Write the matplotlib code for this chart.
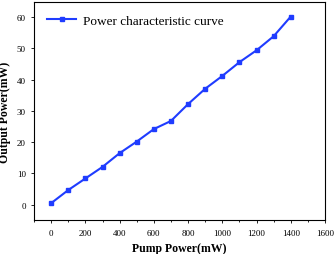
import numpy as np
import matplotlib.pyplot as plt
from matplotlib.ticker import MultipleLocator

pump = [0, 100, 200, 300, 400, 500, 600, 700, 800, 900, 1000, 1100, 1200, 1300, 1400]
output = [0.5, 4.7, 8.4, 12.1, 16.5, 20.2, 24.2, 26.8, 32.2, 37.1, 41.2, 45.6, 49.4, 53.9, 60.2]

plt.rcParams['font.family'] = ['Liberation Serif', 'DejaVu Serif']

fig = plt.figure(figsize=(3.34, 2.55), dpi=100)
ax = fig.add_axes([0.102, 0.132, 0.871, 0.858])
ax.plot(pump, output, color='#1f3cff', marker='s', markersize=3.5, linewidth=1.5,
        label='Power characteristic curve')
ax.set_xlim(-100, 1600)
ax.set_ylim(-5, 65)
ax.xaxis.set_major_locator(MultipleLocator(200))
ax.xaxis.set_minor_locator(MultipleLocator(100))
ax.yaxis.set_major_locator(MultipleLocator(10))
ax.tick_params(labelsize=6.5, length=2.5, width=0.6)
ax.tick_params(which='minor', length=1.5, width=0.6)
for s in ax.spines.values():
    s.set_linewidth(0.8)
ax.set_xlabel('Pump Power(mW)', fontsize=8.5, fontweight='bold', labelpad=4)
ax.set_ylabel('Output Power(mW)', fontsize=8.5, fontweight='bold', labelpad=4)
ax.legend(loc='upper left', frameon=False, fontsize=9.5, handlelength=2.2,
          borderaxespad=0.6, handletextpad=0.5)
fig.savefig('out.png', dpi=100)
